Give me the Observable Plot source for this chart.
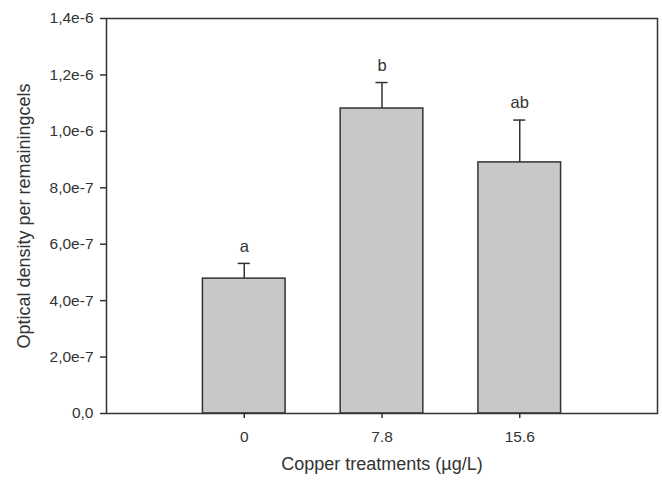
<!DOCTYPE html>
<html>
<head>
<meta charset="utf-8">
<script src="https://cdn.jsdelivr.net/npm/d3@7"></script>
<script src="https://cdn.jsdelivr.net/npm/@observablehq/plot@0.6"></script>
<style>
  html, body { margin: 0; padding: 0; background: #fff; }
  #chart svg { font-family: "Liberation Sans", Arial, sans-serif; }
</style>
</head>
<body>
<div id="chart"></div>
<script>
const categories = ["0", "7.8", "15.6"];
const means = [4.78e-7, 1.081e-6, 8.9e-7];
const errors = [0.54e-7, 0.92e-7, 1.50e-7];
const letters = ["a", "b", "ab"];
const yTicks = [0, 2e-7, 4e-7, 6e-7, 8e-7, 1e-6, 1.2e-6, 1.4e-6];

const data = categories.map((c, i) => ({
  i, cat: c, mean: means[i], err: errors[i], top: means[i] + errors[i], letter: letters[i]
}));

const fmtY = v => v === 0 ? "0,0" : d3.format(".1e")(v).replace(".", ",");
const ink = "#333333";
const half = 0.3;   // half bar width in category units
const cap = 0.044;  // half error-cap width in category units

const chart = Plot.plot({
  width: 662,
  height: 480,
  marginLeft: 106,
  marginRight: 5,
  marginTop: 18,
  marginBottom: 67,
  style: { fontFamily: "'Liberation Sans', Arial, sans-serif", color: ink, background: "#fff" },
  x: { type: "linear", domain: [-1, 3] },
  y: { domain: [0, 1.4e-6] },
  marks: [
    Plot.ruleX(data, { x: "i", y1: "mean", y2: "top", stroke: ink, strokeWidth: 1.5 }),
    Plot.ruleY(data, { y: "top", x1: d => d.i - cap, x2: d => d.i + cap, stroke: ink, strokeWidth: 1.5 }),
    Plot.rectY(data, { x1: d => d.i - half, x2: d => d.i + half, y1: 0, y2: "mean", fill: "#c8c8ca", stroke: ink, strokeWidth: 1.5 }),
    Plot.text(data, { x: "i", y: "top", text: "letter", dy: -17, fontSize: 16.5, fill: ink }),
    Plot.frame({ stroke: ink, strokeWidth: 1.5 }),
    Plot.axisX({ ticks: [0, 1, 2], tickFormat: i => categories[i], tickSize: 5, tickPadding: 12, fontSize: 15.5, label: null, stroke: ink, strokeWidth: 1.5 }),
    Plot.axisY({ ticks: yTicks, tickFormat: fmtY, tickSize: 6, tickPadding: 7, fontSize: 15.5, label: null, stroke: ink, strokeWidth: 1.5 }),
    Plot.text(["Copper treatments (µg/L)"], { frameAnchor: "bottom", dy: 56, fontSize: 18, fill: ink }),
    Plot.text(["Optical density per remainingcels"], { frameAnchor: "left", textAnchor: "middle", dx: -82, rotate: -90, fontSize: 18, fill: ink })
  ]
});
document.getElementById("chart").appendChild(chart);
</script>
</body>
</html>
